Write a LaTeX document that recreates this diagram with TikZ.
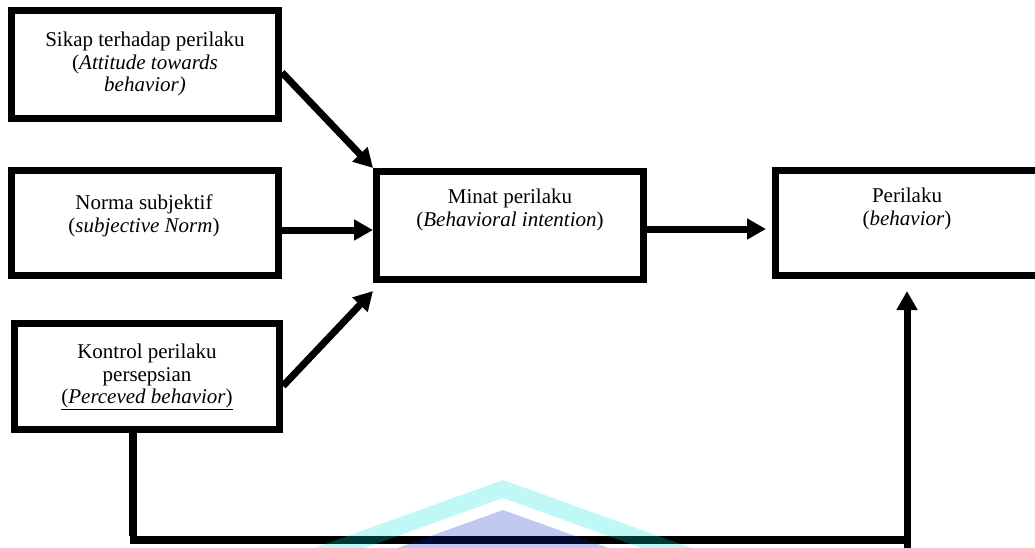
\documentclass[tikz,border=0pt]{standalone}
\usepackage{fontspec}
\setmainfont{Liberation Serif}
\usetikzlibrary{arrows.meta,calc}
\definecolor{wmc}{RGB}{3,227,227}
\definecolor{wmb}{RGB}{3,35,195}
\begin{document}
\begin{tikzpicture}[x=1pt,y=-1pt,
  box/.style={draw=black,line width=7pt,rectangle,inner sep=0pt},
  lbl/.style={anchor=north,align=center,inner sep=0pt,font=\fontsize{21}{22.5}\selectfont},
  arr/.style={line width=7pt,-{Triangle[length=19pt,width=20pt]}},
  fb/.style={line width=7.5pt},
]
\useasboundingbox (0,0) rectangle (1035,547);
\clip (0,0) rectangle (1035,547);

% boxes
\node[box,minimum width=267pt,minimum height=108pt] (b1) at (145,64.5) {};
\node[box,minimum width=267pt,minimum height=105pt] (b2) at (145,223) {};
\node[box,minimum width=265pt,minimum height=106pt] (b3) at (147,376.5) {};
\node[box,minimum width=267pt,minimum height=108pt] (b4) at (510,225.5) {};
\node[box,minimum width=263pt,minimum height=105pt] (b5) at (907,223) {};

% labels
\node[lbl] (t1) at (145,32) {Sikap terhadap perilaku\\(\textit{Attitude towards}\\\textit{behavior)}};
\node[lbl] (t2) at (144,195) {Norma subjektif\\(\textit{subjective Norm})};
\node[lbl] (t3) at (147,344) {Kontrol perilaku\\persepsian\\\underline{(\textit{Perceved behavior})}};
\node[lbl] (t4) at (510,189) {Minat perilaku\\(\textit{Behavioral intention})};
\node[lbl] (t5) at (907,188) {Perilaku\\(\textit{behavior})};

% arrows
\draw[arr] ([yshift=-8pt]b1.east) -- (b4.north west);
\draw[arr] ([yshift=-7pt]b2.east) -- ([yshift=-7pt]b2.east -| b4.west);
\draw[arr] ([yshift=-9.5pt]b3.east) -- ([yshift=-8pt]b4.south west);
\draw[arr,shorten >=6pt] ([yshift=-3.5pt]b4.east) -- ([yshift=-3.5pt]b4.east -| b5.west);

% feedback
\coordinate (c1) at (133,536);
\coordinate (c2) at (130,540);
\coordinate (c3) at (910,540);
\coordinate (c4) at (907,550);
\draw[fb] (b3.south -| c1) -- (c1);
\draw[fb] (c2) -- (c3);
\draw[arr] (c4) -- ([yshift=-12pt]b5.south);

% watermark
\fill[wmc,opacity=0.25] (281,560) -- (503,480) -- (725,560) -- (675,560) -- (503,498) -- (331,560) -- cycle;
\fill[wmb,opacity=0.25] (364,560) -- (503,510) -- (642,560) -- cycle;
\end{tikzpicture}
\end{document}
